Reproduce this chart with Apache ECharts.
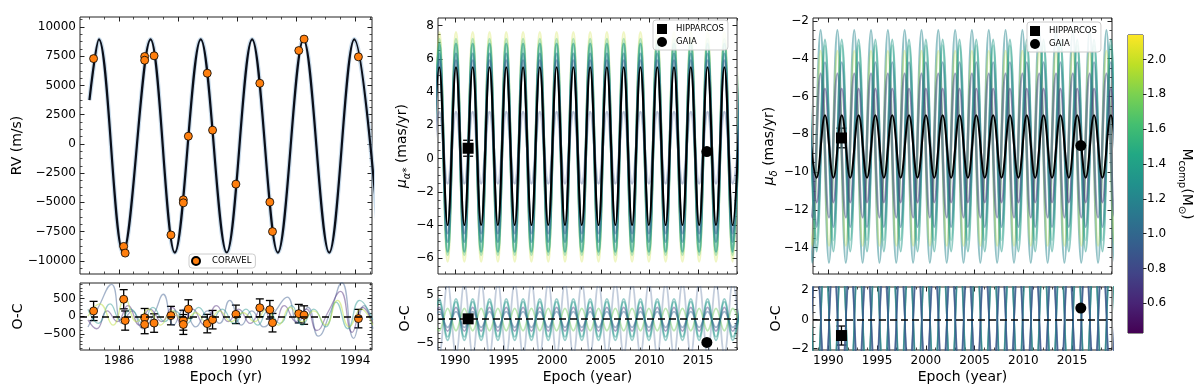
<!DOCTYPE html>
<html>
<head>
<meta charset="utf-8">
<script src="https://cdn.jsdelivr.net/npm/echarts@6/dist/echarts.min.js"></script>
<style>
  html, body { margin: 0; padding: 0; background: #fff; }
  #chart { width: 1200px; height: 391px; }
</style>
</head>
<body>
<div id="chart"></div>
<script>
// ---------- RV panel (CORAVEL) ----------
// best fit curve, read as its extrema (epoch, m/s)
const rvFitEpoch = [1985.00, 1985.32, 1986.14, 1987.07, 1987.89, 1988.77, 1989.65, 1990.51, 1991.38, 1992.25, 1993.12, 1993.97, 1994.84];
const rvFitValue = [3750, 8950, -9300, 8950, -9300, 8950, -9300, 8950, -9300, 8950, -9300, 8950, -9300];

const coravelEpoch = [1985.14, 1986.16, 1986.21, 1986.87, 1986.87, 1987.19, 1987.76, 1988.18, 1988.18, 1988.35, 1988.99, 1989.17, 1989.96, 1990.77, 1991.11, 1991.20, 1992.09, 1992.27, 1994.11];
const coravelRV = [7300, -8770, -9340, 7480, 7160, 7540, -7790, -4780, -5040, 660, 6050, 1180, -3440, 5190, -4980, -7500, 7990, 8970, 7450];
const coravelOC = [150, 480, -120, -40, -230, -190, 20, -110, -230, 205, -205, -95, 55, 240, 185, -180, 75, 35, -65];
const coravelErr = [270, 270, 270, 260, 260, 260, 260, 280, 280, 260, 260, 260, 260, 250, 260, 260, 260, 260, 260];

// residual curves of a few posterior samples (epoch, m/s) and their companion mass
const rvOCLavender = [[1984.95,-300],[1985.3,250],[1985.75,900],[1986.1,-200],[1986.45,150],[1986.8,-350],[1987.2,100],[1987.5,620],[1987.85,-250],[1988.2,200],[1988.6,-300],[1989.0,150],[1989.4,-200],[1989.75,450],[1990.15,-250],[1990.5,150],[1990.9,-300],[1991.3,150],[1991.7,540],[1992.05,-200],[1992.4,250],[1992.75,-560],[1993.15,100],[1993.55,950],[1993.95,-620],[1994.3,300],[1994.6,-350]];
const rvOCPurple = [[1984.95,-100],[1985.25,-350],[1985.6,150],[1985.95,-150],[1986.3,300],[1986.7,-250],[1987.05,200],[1987.45,-150],[1987.8,250],[1988.15,-300],[1988.5,200],[1988.9,-250],[1989.3,300],[1989.7,-150],[1990.05,200],[1990.45,-200],[1990.85,250],[1991.25,-250],[1991.6,300],[1992.0,-150],[1992.35,200],[1992.7,-400],[1993.1,150],[1993.5,700],[1993.9,-450],[1994.25,250],[1994.6,-200]];
const rvOCTeal = [[1984.95,200],[1985.3,-200],[1985.7,350],[1986.05,-100],[1986.4,200],[1986.8,-200],[1987.15,250],[1987.55,-150],[1987.9,150],[1988.3,-200],[1988.7,250],[1989.1,-150],[1989.5,200],[1989.9,-200],[1990.3,200],[1990.7,-250],[1991.05,150],[1991.45,-200],[1991.85,300],[1992.2,-250],[1992.6,200],[1993.0,-300],[1993.35,400],[1993.75,-350],[1994.15,450],[1994.6,-100]];
const rvOCYellow = [[1984.95,0],[1985.35,350],[1985.8,-250],[1986.2,500],[1986.6,-150],[1987.0,200],[1987.4,-250],[1987.8,150],[1988.2,-150],[1988.6,100],[1989.0,-200],[1989.4,150],[1989.8,-150],[1990.2,100],[1990.6,-150],[1991.0,200],[1991.4,-250],[1991.8,250],[1992.2,-150],[1992.6,150],[1993.0,-250],[1993.4,450],[1993.8,-300],[1994.2,200],[1994.6,-250]];
const rvOCMass = [0.9, 0.6, 1.3, 1.95];

// ---------- proper motion in RA ----------
const raPeakEpoch = [1988.38, 1990.10, 1991.82, 1993.55, 1995.27, 1997.00, 1998.72, 2000.45, 2002.17, 2003.90, 2005.62, 2007.35, 2009.07, 2010.80, 2012.52, 2014.25, 2015.97, 2017.70, 2019.42];
const raTroughEpoch = [1987.52, 1989.24, 1990.96, 1992.69, 1994.41, 1996.14, 1997.86, 1999.59, 2001.31, 2003.04, 2004.76, 2006.49, 2008.21, 2009.94, 2011.66, 2013.39, 2015.11, 2016.84, 2018.56];
const raBestLevels = [5.5, -4.0];                       // peak, trough (mas/yr)
const raSampleLevels = [[7.6, -6.2], [7.2, -5.8], [6.9, -5.6], [6.3, -5.0], [5.9, -4.5], [2.8, -1.5]];
const raSampleMass = [2.0, 1.6, 1.35, 1.15, 0.95, 0.85];
const raOCLevels = [[-7.5, 7.5], [3.6, -3.8], [-2.5, 2.2], [2.4, -2.6], [1.5, -1.8], [4.2, -4.5]];
const raOCMass = [0.9, 1.35, 1.75, 0.7, 1.0, 1.3];

// ---------- proper motion in Dec ----------
const decPeakEpoch = [1987.93, 1989.66, 1991.38, 1993.11, 1994.83, 1996.56, 1998.28, 2000.01, 2001.73, 2003.46, 2005.18, 2006.91, 2008.63, 2010.36, 2012.08, 2013.81, 2015.53, 2017.26, 2018.98, 2020.71];
const decTroughEpoch = [1988.80, 1990.52, 1992.25, 1993.97, 1995.70, 1997.42, 1999.15, 2000.87, 2002.60, 2004.32, 2006.05, 2007.77, 2009.50, 2011.22, 2012.95, 2014.67, 2016.40, 2018.12, 2019.85];
// part of the sample cloud peaks a little earlier than the best fit
const decCloudPeakEpoch = [1987.48, 1989.21, 1990.93, 1992.66, 1994.38, 1996.11, 1997.83, 1999.56, 2001.28, 2003.01, 2004.73, 2006.46, 2008.18, 2009.91, 2011.63, 2013.36, 2015.08, 2016.81, 2018.53, 2020.26];
const decCloudTroughEpoch = [1988.35, 1990.07, 1991.80, 1993.52, 1995.25, 1996.97, 1998.70, 2000.42, 2002.15, 2003.87, 2005.60, 2007.32, 2009.05, 2010.77, 2012.50, 2014.22, 2015.95, 2017.67, 2019.40];
const decBestLevels = [-7.0, -10.3];
const decSampleLevels = [[-2.5, -14.8], [-3.3, -13.6], [-3.6, -13.9], [-4.2, -12.9], [-4.8, -12.4], [-5.6, -11.6], [-3.0, -14.2]];
const decSampleMass = [1.2, 1.5, 1.95, 1.0, 0.8, 0.65, 1.35];
const decSampleEarly = [true, false, true, false, true, false, false];
const decOCLevels = [[5, -5], [-5, 5], [4, -4], [-3.5, 3.5], [6, -6], [-6.5, 6.5]];
const decOCMass = [0.95, 1.2, 1.5, 0.8, 1.05, 0.9];

// ---------- HIPPARCOS / GAIA measurements ----------
const hipEpoch = [1991.35];
const gaiaEpoch = [2015.9];
const raHip = [0.62], raHipErr = [0.48], raGaia = [0.42];
const raHipOC = [0.0], raGaiaOC = [-4.95];
const decHip = [-8.2], decHipErr = [0.52], decGaia = [-8.6];
const decHipOC = [-1.1], decHipOCErr = [0.65], decGaiaOC = [0.78];

// colour bar range (companion mass, Msun)
const massMin = 0.43, massMax = 2.14;
const massTicks = [0.6, 0.8, 1.0, 1.2, 1.4, 1.6, 1.8, 2.0];

// ---------------------------------------------------------------
const FONT = 'DejaVu Sans';
const VIRIDIS = ['#440154', '#482475', '#414487', '#355f8d', '#2a788e', '#21918c', '#22a884', '#44bf70', '#7ad151', '#bddf26', '#fde725'];
const SQUARE = 'path://M0,0L10,0L10,10L0,10Z';

function hexRgb(h) {
  return [parseInt(h.slice(1, 3), 16), parseInt(h.slice(3, 5), 16), parseInt(h.slice(5, 7), 16)];
}
function viridis(m) {
  let t = (m - massMin) / (massMax - massMin);
  t = Math.max(0, Math.min(1, t));
  const f = t * 10, i = Math.min(9, Math.floor(f)), u = f - i;
  const a = hexRgb(VIRIDIS[i]), b = hexRgb(VIRIDIS[i + 1]);
  return 'rgb(' + a.map((c, k) => Math.round(c + (b[k] - c) * u)).join(',') + ')';
}

const grids = [
  { left: 80, top: 17, width: 292, height: 257 },   // RV
  { left: 80, top: 283, width: 292, height: 67 },   // RV O-C
  { left: 438, top: 18, width: 299, height: 256 },  // pm RA
  { left: 438, top: 287, width: 299, height: 63 },  // pm RA O-C
  { left: 813, top: 18, width: 299, height: 256 },  // pm Dec
  { left: 813, top: 287, width: 299, height: 63 },  // pm Dec O-C
  { left: 1128, top: 35, width: 15, height: 298 }   // colour bar
];

const nameRich = {
  n: { fontFamily: FONT, fontSize: 14, color: '#000' },
  i: { fontFamily: FONT, fontSize: 14, color: '#000', fontStyle: 'italic' },
  s: { fontFamily: FONT, fontSize: 10, color: '#000', fontStyle: 'italic', verticalAlign: 'bottom', lineHeight: 20 },
  c: { fontFamily: FONT, fontSize: 10, color: '#000', verticalAlign: 'bottom', lineHeight: 20 }
};

function stepValues(min, max, step) {
  const out = [];
  for (let k = Math.ceil(min / step - 1e-9); k * step <= max + 1e-9; k++) out.push(+(k * step).toFixed(6));
  return out;
}
const minus = v => String(v).replace('-', '\u2212');

const xAxes = [], yAxes = [], axisIdx = [];

// one grid: major + minor ticks on all four sides, ticks pointing inwards
function addAxes(g, dim, cfg) {
  const list = dim === 'x' ? xAxes : yAxes;
  const sides = dim === 'x' ? ['bottom', 'top'] : ['left', 'right'];
  const majors = stepValues(cfg.min, cfg.max, cfg.major);
  const minors = stepValues(cfg.min, cfg.max, cfg.minor).filter(v => !majors.some(m => Math.abs(m - v) < 1e-6));
  const first = list.length;
  sides.forEach((pos, si) => {
    list.push({
      type: 'value', gridIndex: g, position: pos, min: cfg.min, max: cfg.max,
      axisLine: { show: false, onZero: false }, splitLine: { show: false },
      axisTick: { inside: true, length: 4.5, customValues: majors, lineStyle: { color: '#222', width: 1 } },
      axisLabel: (si === 0 && cfg.labels) ? {
        customValues: majors, formatter: minus, margin: dim === 'x' ? 5 : 4,
        fontFamily: FONT, fontSize: 12, color: '#000'
      } : { show: false },
      name: si === 0 ? (cfg.name || '') : '',
      nameLocation: 'middle', nameGap: cfg.nameGap || 20,
      nameTextStyle: { fontFamily: FONT, fontSize: 14, color: '#000', rich: nameRich }
    });
    list.push({
      type: 'value', gridIndex: g, position: pos, min: cfg.min, max: cfg.max,
      axisLine: { show: false, onZero: false }, splitLine: { show: false }, axisLabel: { show: false },
      axisTick: { inside: true, length: 2.5, customValues: minors, lineStyle: { color: '#222', width: 0.8 } }
    });
  });
  return first;
}

function panel(g, xc, yc) {
  axisIdx[g] = { x: addAxes(g, 'x', xc), y: addAxes(g, 'y', yc) };
}

panel(0, { min: 1984.68, max: 1994.57, major: 2, minor: 0.5 },
         { min: -11130, max: 10860, major: 2500, minor: 625, labels: true, name: 'RV (m/s)', nameGap: 55 });
panel(1, { min: 1984.68, max: 1994.57, major: 2, minor: 0.5, labels: true, name: 'Epoch (yr)' },
         { min: -948, max: 937, major: 500, minor: 100, labels: true, name: 'O-C', nameGap: 55 });
panel(2, { min: 1988.25, max: 2019.0, major: 5, minor: 1 },
         { min: -6.95, max: 8.46, major: 2, minor: 0.5, labels: true, name: '{i|\u03bc}{s|\u03b1*}{n| (mas/yr)}', nameGap: 26 });
panel(3, { min: 1988.25, max: 2019.0, major: 5, minor: 1, labels: true, name: 'Epoch (year)' },
         { min: -6.55, max: 6.7, major: 5, minor: 1, labels: true, name: 'O-C', nameGap: 26 });
panel(4, { min: 1988.43, max: 2019.1, major: 5, minor: 1 },
         { min: -15.4, max: -1.85, major: 2, minor: 0.5, labels: true, name: '{i|\u03bc}{s|\u03b4}{n| (mas/yr)}', nameGap: 30 });
panel(5, { min: 1988.43, max: 2019.1, major: 5, minor: 1, labels: true, name: 'Epoch (year)' },
         { min: -2.09, max: 2.22, major: 2, minor: 0.5, labels: true, name: 'O-C', nameGap: 30 });

// colour bar axes
const cbX = xAxes.length;
xAxes.push({ type: 'value', gridIndex: 6, min: 0, max: 1, show: false });
const cbY = yAxes.length;
yAxes.push({
  type: 'value', gridIndex: 6, position: 'right', min: massMin, max: massMax,
  axisLine: { show: false, onZero: false }, splitLine: { show: false },
  axisTick: { inside: false, length: 3.5, customValues: massTicks, lineStyle: { color: '#222' } },
  axisLabel: { customValues: massTicks, formatter: v => v.toFixed(1), margin: 4, fontFamily: FONT, fontSize: 12, color: '#000' },
  name: '{n|M}{c|comp}{n|(M}{c|\u2299}{n|)}', nameLocation: 'middle', nameRotate: -90, nameGap: 34,
  nameTextStyle: { fontFamily: FONT, fontSize: 14, color: '#000', rich: nameRich }
});

// ---------- series helpers ----------
function waveData(peaks, troughs, hi, lo) {
  return peaks.map(e => [e, hi]).concat(troughs.map(e => [e, lo])).sort((a, b) => a[0] - b[0]);
}
function line(g, data, color, width, opacity, smooth, extra) {
  return Object.assign({
    type: 'line', xAxisIndex: axisIdx[g].x, yAxisIndex: axisIdx[g].y, data: data,
    symbol: 'none', smooth: smooth, silent: true, animation: false,
    lineStyle: { color: color, width: width, opacity: opacity }
  }, extra || {});
}
function zeroLine() {
  return {
    symbol: 'none', silent: true, animation: false, label: { show: false },
    lineStyle: { color: '#000', width: 1.5, type: [7, 4], opacity: 1 },
    data: [{ yAxis: 0 }]
  };
}
function errorBars(g, data, capHalf) {
  return {
    type: 'custom', xAxisIndex: axisIdx[g].x, yAxisIndex: axisIdx[g].y, data: data,
    encode: { x: 0, y: 1 }, silent: true, animation: false, z: 3,
    renderItem: function (params, api) {
      const x = api.value(0), y = api.value(1), e = api.value(2);
      const hi = api.coord([x, y + e]), lo = api.coord([x, y - e]);
      const st = { stroke: '#000', lineWidth: 1.3 };
      return {
        type: 'group', children: [
          { type: 'line', shape: { x1: hi[0], y1: hi[1], x2: lo[0], y2: lo[1] }, style: st },
          { type: 'line', shape: { x1: hi[0] - capHalf, y1: hi[1], x2: hi[0] + capHalf, y2: hi[1] }, style: st },
          { type: 'line', shape: { x1: lo[0] - capHalf, y1: lo[1], x2: lo[0] + capHalf, y2: lo[1] }, style: st }
        ]
      };
    }
  };
}
function points(g, name, data, symbol, size, color) {
  return {
    type: 'scatter', name: name, xAxisIndex: axisIdx[g].x, yAxisIndex: axisIdx[g].y, data: data,
    symbol: symbol, symbolSize: size, z: 4, animation: false, silent: true,
    itemStyle: { color: color, borderColor: '#000', borderWidth: color === '#000' ? 0 : 0.8, opacity: 1 }
  };
}
const pairs = (xs, ys) => xs.map((x, i) => [x, ys[i]]);
const triples = (xs, ys, es) => xs.map((x, i) => [x, ys[i], es[i]]);

const series = [];

// RV panel
series.push(line(0, pairs(rvFitEpoch, rvFitValue), '#a9c6df', 4.5, 0.6, 0.35));
series.push(line(0, pairs(rvFitEpoch, rvFitValue), '#0b0f1a', 2.2, 1, 0.35));
series.push(points(0, 'CORAVEL', pairs(coravelEpoch, coravelRV), 'circle', 8, '#ff7f0e'));

// RV O-C
[rvOCLavender, rvOCPurple, rvOCTeal, rvOCYellow].forEach((d, i) => {
  series.push(line(1, d, viridis(rvOCMass[i]), 1.3, 0.45, 0.5, i === 3 ? { markLine: zeroLine() } : null));
});
series.push(errorBars(1, triples(coravelEpoch, coravelOC, coravelErr), 4));
series.push(points(1, 'CORAVEL', pairs(coravelEpoch, coravelOC), 'circle', 8, '#ff7f0e'));

// pm RA
const raOpacity = [0.28, 0.35, 0.6, 0.55, 0.5, 0.35];
raSampleLevels.forEach((lv, i) => {
  series.push(line(2, waveData(raPeakEpoch, raTroughEpoch, lv[0], lv[1]), viridis(raSampleMass[i]), 2.6, raOpacity[i], 0.4));
});
series.push(line(2, waveData(raPeakEpoch, raTroughEpoch, raBestLevels[0], raBestLevels[1]), '#000', 2, 1, 0.4));
series.push(errorBars(2, triples(hipEpoch, raHip, raHipErr), 5));
series.push(points(2, 'HIPPARCOS', pairs(hipEpoch, raHip), 'rect', 11, '#000'));
series.push(points(2, 'GAIA', pairs(gaiaEpoch, raGaia), 'circle', 11, '#000'));

// pm RA O-C
raOCLevels.forEach((lv, i) => {
  series.push(line(3, waveData(raPeakEpoch, raTroughEpoch, lv[0], lv[1]), viridis(raOCMass[i]), 1.8, i === 0 ? 0.3 : 0.45, 0.4,
    i === raOCLevels.length - 1 ? { markLine: zeroLine() } : null));
});
series.push(points(3, 'HIPPARCOS', pairs(hipEpoch, raHipOC), 'rect', 11, '#000'));
series.push(points(3, 'GAIA', pairs(gaiaEpoch, raGaiaOC), 'circle', 11, '#000'));

// pm Dec
decSampleLevels.forEach((lv, i) => {
  const pk = decSampleEarly[i] ? decCloudPeakEpoch : decPeakEpoch;
  const tr = decSampleEarly[i] ? decCloudTroughEpoch : decTroughEpoch;
  series.push(line(4, waveData(pk, tr, lv[0], lv[1]), viridis(decSampleMass[i]), 2.4, decSampleMass[i] > 1.45 ? 0.3 : 0.5, 0.4));
});
series.push(line(4, waveData(decPeakEpoch, decTroughEpoch, decBestLevels[0], decBestLevels[1]), '#000', 2, 1, 0.4));
series.push(errorBars(4, triples(hipEpoch, decHip, decHipErr), 5));
series.push(points(4, 'HIPPARCOS', pairs(hipEpoch, decHip), 'rect', 11, '#000'));
series.push(points(4, 'GAIA', pairs(gaiaEpoch, decGaia), 'circle', 11, '#000'));

// pm Dec O-C
decOCLevels.forEach((lv, i) => {
  series.push(line(5, waveData(decPeakEpoch, decTroughEpoch, lv[0], lv[1]), viridis(decOCMass[i]), 1.5, 0.6, 0.4,
    i === decOCLevels.length - 1 ? { markLine: zeroLine() } : null));
});
series.push(errorBars(5, triples(hipEpoch, decHipOC, decHipOCErr), 5));
series.push(points(5, 'HIPPARCOS', pairs(hipEpoch, decHipOC), 'rect', 11, '#000'));
series.push(points(5, 'GAIA', pairs(gaiaEpoch, decGaiaOC), 'circle', 11, '#000'));

// colour bar
series.push({
  type: 'custom', xAxisIndex: cbX, yAxisIndex: cbY, data: [[0, massMin, massMax]],
  encode: { x: 0, y: 1 }, silent: true, animation: false,
  renderItem: function (params, api) {
    const a = api.coord([0, api.value(2)]), b = api.coord([1, api.value(1)]);
    return {
      type: 'rect', shape: { x: a[0], y: a[1], width: b[0] - a[0], height: b[1] - a[1] },
      style: {
        fill: new echarts.graphic.LinearGradient(0, 1, 0, 0,
          VIRIDIS.map((c, k) => ({ offset: k / (VIRIDIS.length - 1), color: c })))
      }
    };
  }
});

const legendBase = {
  orient: 'vertical', backgroundColor: 'rgba(255,255,255,0.85)', borderColor: '#cccccc', borderWidth: 1,
  borderRadius: 3, selectedMode: false, itemGap: 3, symbolKeepAspect: true,
  textStyle: { fontFamily: FONT, fontSize: 8.5, color: '#000' }
};

const chart = echarts.init(document.getElementById('chart'), null, { renderer: 'canvas' });
chart.setOption({
  backgroundColor: '#fff',
  animation: false,
  grid: grids.map(g => Object.assign({ show: true, borderColor: '#222', borderWidth: 1, backgroundColor: 'transparent' }, g)),
  xAxis: xAxes,
  yAxis: yAxes,
  legend: [
    Object.assign({}, legendBase, {
      data: [{ name: 'CORAVEL', icon: 'circle' }], left: 189, top: 254,
      itemWidth: 22, itemHeight: 8, padding: [2, 4, 2, 2]
    }),
    Object.assign({}, legendBase, {
      data: [{ name: 'HIPPARCOS', icon: SQUARE }, { name: 'GAIA', icon: 'circle' }], left: 653, top: 20,
      itemWidth: 18, itemHeight: 10, padding: [4, 4, 3, 4]
    }),
    Object.assign({}, legendBase, {
      data: [{ name: 'HIPPARCOS', icon: SQUARE }, { name: 'GAIA', icon: 'circle' }], left: 1027, top: 22,
      itemWidth: 18, itemHeight: 10, padding: [4, 4, 3, 3]
    })
  ],
  series: series
});
</script>
</body>
</html>
